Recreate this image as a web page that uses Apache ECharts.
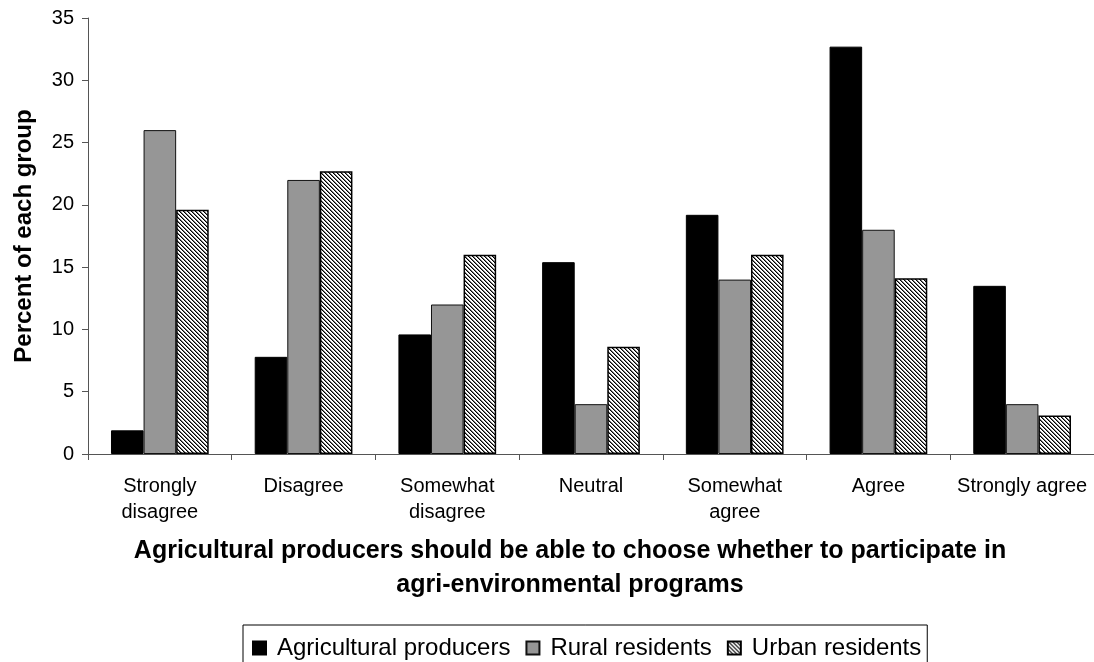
<!DOCTYPE html>
<html>
<head>
<meta charset="utf-8">
<script src="https://cdn.jsdelivr.net/npm/echarts@6/dist/echarts.min.js"></script>
<style>
  html, body { margin: 0; padding: 0; background: #fff; }
  #chart { width: 1094px; height: 662px; }
</style>
</head>
<body>
<div id="chart"></div>
<script>
const categories = ['Strongly\ndisagree', 'Disagree', 'Somewhat\ndisagree', 'Neutral', 'Somewhat\nagree', 'Agree', 'Strongly agree'];
const seriesNames = ['Agricultural producers', 'Rural residents', 'Urban residents'];
const producers = [1.9, 7.8, 9.6, 15.4, 19.2, 32.7, 13.5];
const rural = [26, 22, 12, 4, 14, 18, 4];
const urban = [19.6, 22.7, 16, 8.6, 16, 14.1, 3.1];
const yMin = 0, yMax = 35, yStep = 5;
const xTitle = 'Agricultural producers should be able to choose whether to participate in\nagri-environmental programs';
const yTitle = 'Percent of each group';

// hatch pattern (diagonal lines going down-right)
const pc = document.createElement('canvas');
pc.width = 4; pc.height = 4;
const px = pc.getContext('2d');
px.fillStyle = '#fff';
px.fillRect(0, 0, 4, 4);
for (let i = 0; i < 4; i++) {
  px.fillStyle = '#000';
  px.fillRect(i, i, 1, 1);
  px.fillStyle = '#777';
  px.fillRect((i + 1) % 4, i, 1, 1);
}
const hatch = { image: pc, repeat: 'repeat' };

const font = '"Liberation Sans", Arial, sans-serif';
const axisColor = '#555';

const chart = echarts.init(document.getElementById('chart'), null, { renderer: 'canvas' });
chart.setOption({
  animation: false,
  backgroundColor: '#fff',
  textStyle: { fontFamily: font, color: '#000' },
  grid: { left: 88, right: 0, top: 18, bottom: 208, containLabel: false },
  legend: {
    left: 243,
    top: 625,
    padding: [11, 6, 20, 9],
    borderColor: '#000',
    borderWidth: 1,
    borderRadius: 0,
    itemWidth: 13,
    itemHeight: 13,
    itemGap: 15,
    icon: 'rect',
    textStyle: { fontSize: 24, color: '#000', fontFamily: font, padding: [0, 0, 0, 6] },
    data: seriesNames
  },
  xAxis: {
    type: 'category',
    data: categories,
    axisLine: { lineStyle: { color: axisColor, width: 1 } },
    axisTick: { show: true, length: 6, lineStyle: { color: axisColor } },
    axisLabel: { fontSize: 20, color: '#000', margin: 19, lineHeight: 26, interval: 0, fontFamily: font },
    name: xTitle,
    nameLocation: 'middle',
    nameGap: 80,
    nameTextStyle: { fontSize: 25, fontWeight: 'bold', color: '#000', lineHeight: 34, fontFamily: font, padding: [0, 42, 0, 0] }
  },
  yAxis: {
    type: 'value',
    min: yMin,
    max: yMax,
    interval: yStep,
    splitLine: { show: false },
    axisLine: { show: true, lineStyle: { color: axisColor, width: 1 } },
    axisTick: { show: true, length: 6, lineStyle: { color: axisColor } },
    axisLabel: { fontSize: 20, color: '#000', margin: 14, fontFamily: font },
    name: yTitle,
    nameLocation: 'middle',
    nameRotate: 90,
    nameGap: 52,
    nameTextStyle: { fontSize: 24, fontWeight: 'bold', color: '#000', fontFamily: font }
  },
  series: [
    {
      name: seriesNames[0], type: 'bar', data: producers,
      barGap: '0%', barCategoryGap: '32%',
      itemStyle: { color: '#000', borderColor: '#000', borderWidth: 1 }
    },
    {
      name: seriesNames[1], type: 'bar', data: rural,
      barGap: '0%', barCategoryGap: '32%',
      itemStyle: { color: '#969696', borderColor: '#111', borderWidth: 1 }
    },
    {
      name: seriesNames[2], type: 'bar', data: urban,
      barGap: '0%', barCategoryGap: '32%',
      itemStyle: { color: hatch, borderColor: '#000', borderWidth: 1.5 }
    }
  ]
});
</script>
</body>
</html>
